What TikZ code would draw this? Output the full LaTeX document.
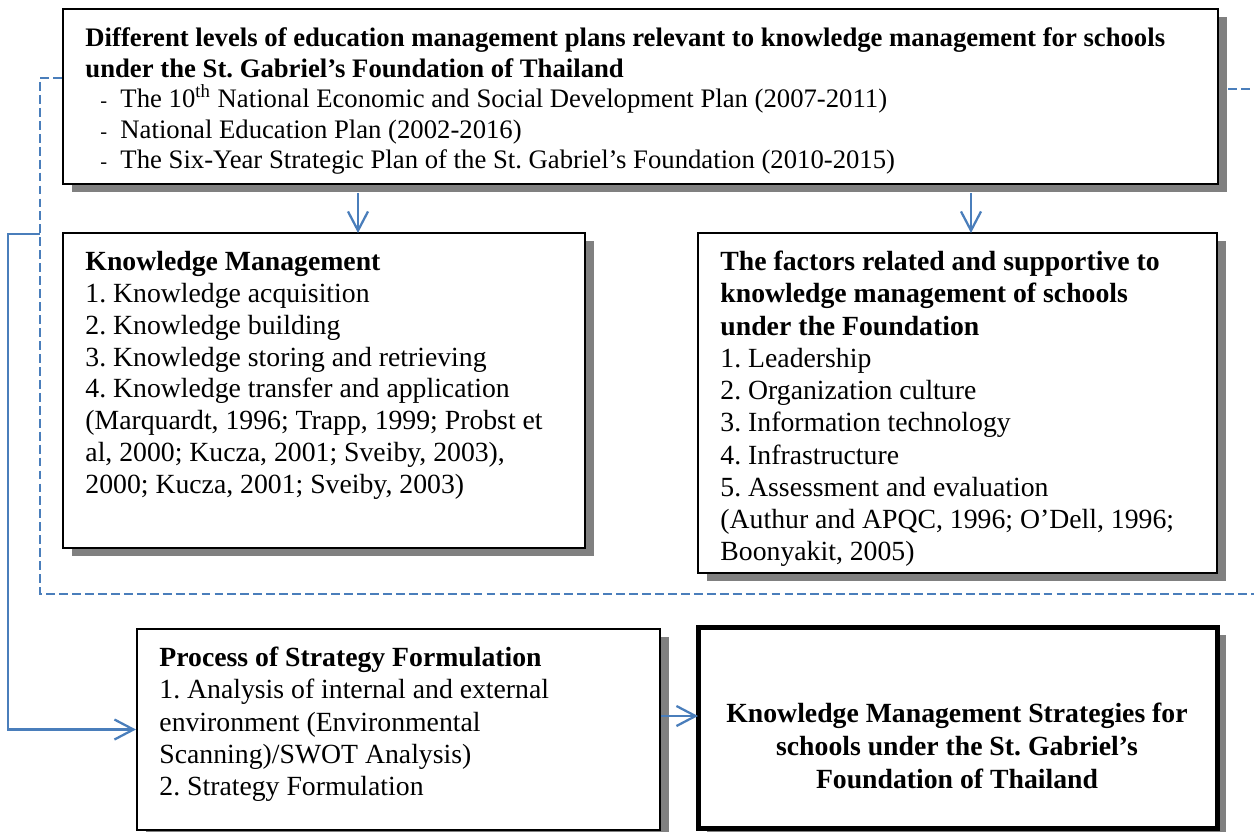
\documentclass[tikz,border=0pt]{standalone}
\usepackage{fontspec}
\setmainfont{Liberation Serif}
\usepackage{tikz}
\usetikzlibrary{arrows.meta, positioning, fit, shadows}
\usepackage{xcolor}
\definecolor{lineblue}{HTML}{4A7EBB}
\definecolor{shadowgray}{HTML}{808080}
\newcommand{\planitem}[1]{\makebox[15.4pt][l]{\hspace{6.6pt}{\small -}}#1}
\frenchspacing

\begin{document}
\begin{tikzpicture}[
x=0.44pt, y=-0.44pt,
>={Straight Barb[length=8.4pt,width=8.8pt]},
box/.style={draw, line width=0.9pt, fill=white, inner sep=0pt,
  drop shadow={shadow xshift=4pt, shadow yshift=-3.5pt, fill=shadowgray, opacity=1}},
txt/.style={anchor=north west, align=left, inner sep=0pt, font=\fontsize{12.2}{14}\selectfont},
flow/.style={draw=lineblue, line width=1pt},
dashlink/.style={draw=lineblue, line width=1pt, dash pattern=on 3.9pt off 1.8pt},
]
\useasboundingbox (0,0) rectangle (1254,831);

%% plans
\node[box, fit={(63,9) (1218,184)}] (plans) {};
\node[txt, font=\fontsize{11.75}{13.4}\selectfont] (planstext) at (85,27.5) {%
\textbf{Different levels of education management plans relevant to knowledge management for schools}\\
\textbf{under the St. Gabriel’s Foundation of Thailand}\\
\planitem{The 10\textsuperscript{th} National Economic and Social Development Plan (2007-2011)}\\
\planitem{National Education Plan (2002-2016)}\\
\planitem{The Six-Year Strategic Plan of the St. Gabriel’s Foundation (2010-2015)}};

%% knowledge management
\node[box, fit={(63,233) (585,548)}] (km) {};
\node[txt] (kmtext) at (85,251) {%
\textbf{Knowledge Management}\\
1. Knowledge acquisition\\
2. Knowledge building\\
3. Knowledge storing and retrieving\\
4. Knowledge transfer and application\\
(Marquardt, 1996; Trapp, 1999; Probst et\\
al, 2000; Kucza, 2001; Sveiby, 2003),\\
2000; Kucza, 2001; Sveiby, 2003)};

%% factors
\node[box, fit={(698,233) (1217,573)}] (factors) {};
\node[txt, font=\fontsize{12.2}{14.2}\selectfont] (factorstext) at (720,250.5) {%
\textbf{The factors related and supportive to}\\
\textbf{knowledge management of schools}\\
\textbf{under the Foundation}\\
1. Leadership\\
2. Organization culture\\
3. Information technology\\
4. Infrastructure\\
5. Assessment and evaluation\\
(Authur and APQC, 1996; O’Dell, 1996;\\
Boonyakit, 2005)};

%% process
\node[box, fit={(137,629) (660,830)}] (process) {};
\node[txt, font=\fontsize{12.2}{14.2}\selectfont] (processtext) at (159,646.5) {%
\textbf{Process of Strategy Formulation}\\
1. Analysis of internal and external\\
environment (Environmental\\
Scanning)/SWOT Analysis)\\
2. Strategy Formulation};

%% strategies
\node[box, line width=2.2pt, fit={(698,627) (1217,828)}] (strategy) {};
\node[txt, anchor=north, align=center, font=\bfseries\fontsize{12.2}{14.4}\selectfont] (strategytext) at (957,703) {%
Knowledge Management Strategies for\\
schools under the St. Gabriel’s\\
Foundation of Thailand};

% connectors
\coordinate (dashleft) at (40,78);
\coordinate (dashbottom) at (1254,594);
\coordinate (dashright) at (1254,89);
\coordinate (feedstart) at (40,234);
\coordinate (kmin) at (358,233);
\coordinate (factorsin) at (971,233);
\coordinate (strategyin) at (698,716);
\draw[dashlink] (plans.west |- dashleft) -- (dashleft) |- (dashbottom);
\draw[dashlink] ([xshift=4pt]plans.east |- dashright) -- (dashright);
\draw[flow,->] (feedstart) -- ++(-32,0) |- (process.west);
\draw[flow,->] ([yshift=-3.5pt]plans.south -| kmin) -- (kmin);
\draw[flow,->] ([yshift=-3.5pt]plans.south -| factorsin) -- (factorsin);
\draw[flow,->] (process.east |- strategyin) -- (strategyin);
\end{tikzpicture}
\end{document}
